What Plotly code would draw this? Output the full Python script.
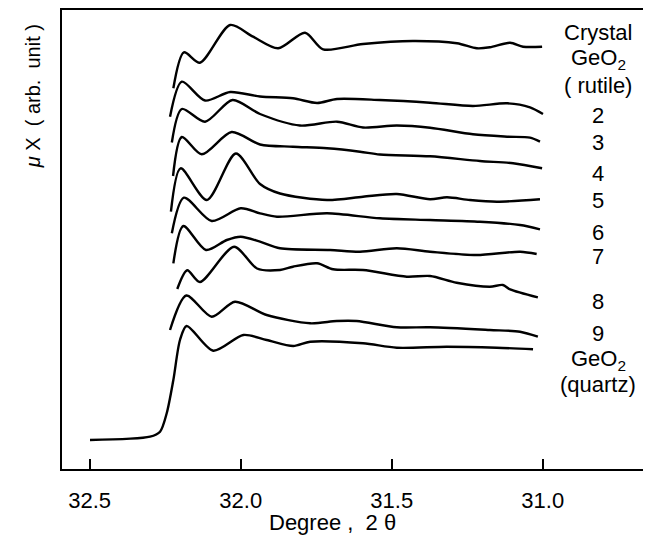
import plotly.graph_objects as go

# ---- data (2θ in degrees, μX in arbitrary units) ----
rutile_x = [32.223, 32.188, 32.135, 32.035, 31.959, 31.876, 31.787, 31.727, 31.595, 31.430, 31.284, 31.218, 31.175, 31.108, 31.065, 31.002]
rutile_y = [38.07, 41.67, 40.63, 44.40, 43.23, 42.07, 43.63, 41.97, 42.50, 42.80, 42.57, 42.07, 42.17, 42.63, 42.23, 42.23]

s2_x = [32.234, 32.195, 32.118, 32.035, 31.936, 31.827, 31.747, 31.681, 31.539, 31.373, 31.231, 31.118, 31.042, 30.999]
s2_y = [35.23, 38.73, 36.85, 37.70, 37.25, 37.07, 36.60, 37.00, 36.90, 36.63, 36.30, 36.57, 36.17, 35.50]

s3_x = [32.228, 32.195, 32.118, 32.027, 31.936, 31.804, 31.681, 31.595, 31.483, 31.373, 31.231, 31.118, 31.042, 31.009]
s3_y = [32.65, 36.00, 34.73, 36.90, 35.50, 34.35, 34.73, 34.15, 34.35, 34.13, 33.47, 33.23, 33.13, 32.73]

s4_x = [32.224, 32.195, 32.129, 32.030, 31.936, 31.827, 31.714, 31.605, 31.539, 31.373, 31.208, 31.098, 31.002]
s4_y = [29.30, 33.20, 31.47, 33.70, 32.45, 32.23, 32.07, 31.73, 31.45, 31.27, 30.80, 30.57, 30.07]

s5_x = [32.231, 32.199, 32.112, 32.016, 31.936, 31.870, 31.714, 31.595, 31.483, 31.373, 31.317, 31.241, 31.152, 31.009]
s5_y = [25.73, 30.07, 26.90, 31.55, 28.50, 27.55, 26.90, 27.23, 27.50, 26.97, 27.17, 26.90, 26.73, 26.97]

s6_x = [32.228, 32.188, 32.096, 32.000, 31.936, 31.880, 31.714, 31.539, 31.373, 31.208, 31.075, 31.009]
s6_y = [23.57, 27.13, 24.80, 26.07, 25.57, 25.23, 25.57, 25.07, 24.90, 24.73, 24.40, 23.97]

s7_x = [32.223, 32.190, 32.115, 32.046, 32.000, 31.936, 31.870, 31.704, 31.605, 31.483, 31.373, 31.219, 31.075, 31.020]
s7_y = [20.57, 24.30, 21.90, 22.90, 23.23, 22.73, 22.07, 21.90, 21.73, 22.07, 21.73, 21.40, 21.73, 21.50]

s8_x = [32.210, 32.177, 32.135, 32.022, 31.946, 31.870, 31.827, 31.747, 31.694, 31.595, 31.450, 31.373, 31.285, 31.175, 31.132, 31.108, 31.016]
s8_y = [18.00, 19.87, 18.70, 22.23, 20.05, 19.90, 20.23, 20.57, 19.97, 19.90, 19.23, 19.30, 18.63, 18.23, 18.40, 17.97, 17.17]

s9_x = [32.234, 32.180, 32.096, 32.019, 31.914, 31.770, 31.682, 31.616, 31.483, 31.373, 31.175, 31.075, 31.016]
s9_y = [13.90, 17.35, 15.23, 16.73, 15.40, 14.57, 14.80, 14.80, 14.17, 14.17, 13.90, 13.73, 13.23]

quartz_x = [32.499, 32.300, 32.267, 32.245, 32.223, 32.201, 32.179, 32.091, 31.991, 31.914, 31.826, 31.770, 31.595, 31.483, 31.318, 31.152, 31.032]
quartz_y = [2.90, 3.23, 3.73, 5.57, 8.90, 12.90, 14.30, 11.83, 13.40, 12.90, 12.30, 12.73, 12.57, 12.13, 12.23, 12.13, 11.97]

series = [(rutile_x, rutile_y), (s2_x, s2_y), (s3_x, s3_y), (s4_x, s4_y), (s5_x, s5_y),
          (s6_x, s6_y), (s7_x, s7_y), (s8_x, s8_y), (s9_x, s9_y), (quartz_x, quartz_y)]

label_texts = ["Crystal", "GeO<sub>2</sub>", "( rutile)", "2", "3", "4", "5", "6", "7", "8", "9",
               "GeO<sub>2</sub>", "(quartz)"]
label_y = [43.7, 41.0, 38.4, 35.4, 32.7, 29.6, 26.9, 23.7, 21.3, 16.8, 13.6, 10.9, 8.5]
label_x = 30.816

tick_vals = [32.5, 32.0, 31.5, 31.0]
tick_text = ["32.5", "32.0", "31.5", "31.0"]

FONT = "Liberation Sans"

fig = go.Figure()
for xs, ys in series:
    fig.add_trace(go.Scatter(x=xs, y=ys, mode="lines",
                             line=dict(color="black", width=2.4, shape="spline", smoothing=0.8),
                             showlegend=False, hoverinfo="skip"))

for t, y in zip(label_texts, label_y):
    fig.add_annotation(x=label_x, y=y, xref="x", yref="y", text=t, showarrow=False,
                       font=dict(family=FONT, size=22, color="black"), xanchor="center", yanchor="middle")

fig.add_annotation(x=0.46, y=-0.1155, xref="paper", yref="paper", text="Degree ,  2 θ",
                   showarrow=False, font=dict(family=FONT, size=22, color="black"),
                   xanchor="center", yanchor="middle")
fig.add_annotation(x=-0.05, y=0.811, xref="paper", yref="paper", text="<i>μ</i> X  ( arb.  unit )",
                   showarrow=False, textangle=-90, font=dict(family=FONT, size=20, color="black"),
                   xanchor="center", yanchor="middle")

fig.update_xaxes(range=[32.5917, 30.6414], tickvals=tick_vals, ticktext=tick_text,
                 ticks="inside", ticklen=10, tickwidth=2, tickcolor="black",
                 ticklabelstandoff=11,
                 showline=True, linewidth=2, linecolor="black", mirror=True,
                 showgrid=False, zeroline=False,
                 tickfont=dict(family=FONT, size=22, color="black"))
fig.update_yaxes(range=[0, 45.9], showticklabels=False, ticks="",
                 showline=True, linewidth=2, linecolor="black", mirror=False,
                 showgrid=False, zeroline=False)

# the page body adds an 8 px offset, so the figure is sized/margined to compensate
fig.update_layout(width=643, height=536, margin=dict(l=54, r=0, t=2, b=75),
                  plot_bgcolor="white", paper_bgcolor="white",
                  font=dict(family=FONT, color="black"))

fig.write_html("out.html")
